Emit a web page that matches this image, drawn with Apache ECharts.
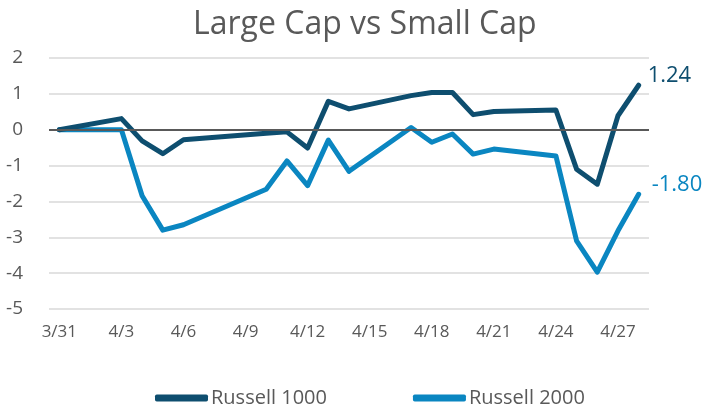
<!DOCTYPE html>
<html><head><meta charset="utf-8">
<script src="https://cdn.jsdelivr.net/npm/echarts@6/dist/echarts.min.js"></script>
<style>html,body{margin:0;padding:0;background:#fff}#c{width:705px;height:409px}</style>
</head><body><div id="c"></div>
<script>
// calendar days 3/31 .. 4/28 (null = market closed)
const categories = ['3/31','4/1','4/2','4/3','4/4','4/5','4/6','4/7','4/8','4/9','4/10','4/11','4/12','4/13','4/14','4/15','4/16','4/17','4/18','4/19','4/20','4/21','4/22','4/23','4/24','4/25','4/26','4/27','4/28'];
const russell1000 = [0,null,null,0.31,-0.31,-0.67,-0.28,null,null,null,-0.10,-0.06,-0.51,0.79,0.58,null,null,0.95,1.04,1.04,0.42,0.51,null,null,0.55,-1.10,-1.52,0.39,1.24];
const russell2000 = [0,null,null,0,-1.84,-2.80,-2.65,null,null,null,-1.66,-0.87,-1.56,-0.29,-1.16,null,null,0.06,-0.35,-0.12,-0.68,-0.54,null,null,-0.73,-3.10,-3.97,-2.82,-1.80];
const yTicks = [-5,-4,-3,-2,-1,0,1,2];

const font = '"Open Sans", "Noto Sans", sans-serif';
const gray = '#595959';
const chart = echarts.init(document.getElementById('c'), null, {renderer:'canvas'});
chart.setOption({
  animation:false,
  title:{text:'Large Cap vs Small Cap', left:188, top:4,
    textStyle:{fontFamily:font, fontSize:32, fontWeight:'normal', color:gray}},
  grid:{left:49, right:56, top:58, bottom:100},
  legend:{top:383, left:150, itemGap:86, itemWidth:53, itemHeight:7, icon:'roundRect',
    textStyle:{fontFamily:font, fontSize:20, color:gray, padding:[0,0,0,-2]},
    data:['Russell 1000','Russell 2000']},
  xAxis:{type:'category', data:categories, boundaryGap:true,
    axisLine:{show:false, onZero:false}, axisTick:{show:false},
    axisLabel:{interval:2, color:gray, fontFamily:font, fontSize:17, margin:15}},
  yAxis:{type:'value', min:yTicks[0], max:yTicks[yTicks.length-1], interval:1,
    axisLine:{show:false}, axisTick:{show:false},
    axisLabel:{color:gray, fontFamily:font, fontSize:19, margin:26},
    splitLine:{lineStyle:{color:'#d9d9d9', width:1.5}}},
  series:[
    {name:'Russell 1000', type:'line', data:russell1000, connectNulls:true, showSymbol:false,
      color:'#0e4e6f', lineStyle:{width:5, color:'#0e4e6f', cap:'round', join:'round'},
      endLabel:{show:true, formatter:p=>p.value.toFixed(2), color:'#0e4e6f', fontFamily:font, fontSize:22, offset:[1,-10]},
      markLine:{silent:true, symbol:'none', label:{show:false}, lineStyle:{color:gray, width:2, type:'solid'}, data:[{yAxis:0}]},
      z:3},
    {name:'Russell 2000', type:'line', data:russell2000, connectNulls:true, showSymbol:false,
      color:'#0a86c1', lineStyle:{width:5, color:'#0a86c1', cap:'round', join:'round'},
      endLabel:{show:true, formatter:p=>p.value.toFixed(2), color:'#0a86c1', fontFamily:font, fontSize:22, offset:[5,-10]},
      z:2}
  ]
});
</script></body></html>
